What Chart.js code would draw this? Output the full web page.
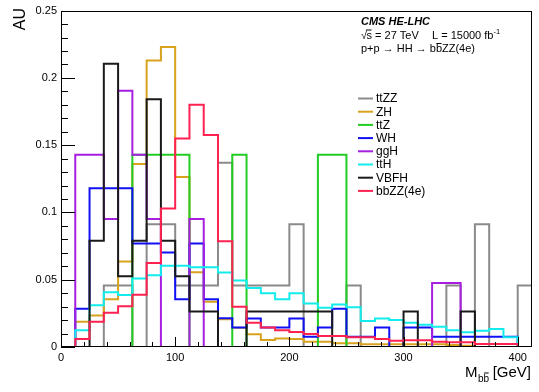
<!DOCTYPE html>
<html>
<head>
<meta charset="utf-8">
<script src="https://cdn.jsdelivr.net/npm/chart.js@4.4.1/dist/chart.umd.min.js"></script>
<style>
  html, body { margin: 0; padding: 0; background: #ffffff; }
  canvas { display: block; }
</style>
</head>
<body>
<canvas id="c" width="539" height="392"></canvas>
<script>
// Histogram binning: 33 bins of 12.5 GeV starting at 0
const binLow = 0;
const binWidth = 12.5;

// Normalised M_bb distributions (one value per bin)
const ttZZ = [0, 0, 0, 0.0457, 0.0457, 0, 0.0913, 0.0913, 0.0457, 0.0457, 0.0457, 0.137, 0.0457, 0.0457, 0.0457, 0.0457, 0.0913, 0, 0, 0, 0.0457, 0, 0, 0, 0, 0, 0, 0.0457, 0, 0.0913, 0, 0, 0.0457];
const ZH = [0, 0.0187, 0.0234, 0.0354, 0.0635, 0.136, 0.213, 0.223, 0.1264, 0.0555, 0.0337, 0.0207, 0.0143, 0.0094, 0.0052, 0.0064, 0.0059, 0.0039, 0.0039, 0.0027, 0.0027, 0.002, 0.002, 0.002, 0.002, 0.002, 0.002, 0.0015, 0.001, 0, 0, 0, 0];
const ttZ = [0, 0, 0, 0, 0, 0.1429, 0.1429, 0.1429, 0.1429, 0, 0, 0, 0.1429, 0, 0, 0, 0, 0, 0.1429, 0.1429, 0, 0, 0, 0, 0, 0, 0, 0, 0, 0, 0, 0, 0];
const WH = [0, 0.0284, 0.118, 0.118, 0.118, 0.077, 0.077, 0.0702, 0.0354, 0.077, 0.0354, 0.0214, 0.0145, 0.0212, 0.0145, 0.0145, 0.0212, 0.0076, 0.0145, 0.0285, 0.0076, 0.0076, 0.0145, 0, 0.0145, 0.0145, 0.0076, 0.0076, 0.0076, 0.0076, 0.0076, 0.0076, 0];
const ggH = [0, 0.1429, 0.1429, 0.0952, 0.1905, 0.1429, 0.0952, 0, 0, 0.0952, 0, 0, 0, 0, 0, 0, 0, 0, 0, 0, 0, 0, 0, 0, 0, 0, 0.0476, 0.0476, 0, 0, 0, 0, 0];
const ttH = [0, 0.0125, 0.031, 0.0407, 0.0387, 0.0509, 0.0533, 0.0603, 0.0603, 0.0593, 0.0593, 0.0553, 0.0494, 0.0438, 0.04, 0.0354, 0.04, 0.0324, 0.0291, 0.0315, 0.0296, 0.0194, 0.0212, 0.02, 0.018, 0.0165, 0.015, 0.0125, 0.011, 0.012, 0.0133, 0.0073, 0];
const VBFH = [0, 0, 0.0789, 0.2105, 0.0526, 0.0789, 0.1842, 0.0789, 0.0526, 0.0263, 0.0263, 0, 0, 0.0263, 0.0263, 0.0263, 0.0263, 0.0263, 0.0263, 0, 0, 0, 0, 0, 0.0263, 0, 0, 0, 0.0263, 0, 0, 0, 0];
const bbZZ4e = [0, 0.006, 0.0187, 0.0255, 0.0303, 0.0388, 0.0625, 0.103, 0.155, 0.18, 0.1575, 0.0785, 0.0299, 0.018, 0.0145, 0.0125, 0.0112, 0.0096, 0.0081, 0.0081, 0.0072, 0.0072, 0.0059, 0.0047, 0.005, 0.005, 0.0039, 0.0035, 0.0035, 0.0022, 0.0022, 0.0022, 0];

const seriesNames = ['ttZZ', 'ZH', 'ttZ', 'WH', 'ggH', 'ttH', 'VBFH', 'bbZZ(4e)'];
const seriesValues = [ttZZ, ZH, ttZ, WH, ggH, ttH, VBFH, bbZZ4e];
const seriesColors = ['#8a8a8a', '#d8a21e', '#22cc22', '#1010f5', '#a61ee0', '#12ecec', '#1a1a1a', '#ff2250'];

// Axis ticks
const xTicks = [0, 100, 200, 300, 400];
const yTicks = [0, 0.05, 0.1, 0.15, 0.2, 0.25];
const yTickLabels = ['0', '0.05', '0.1', '0.15', '0.2', '0.25'];
const xMinorStep = 20;
const yMinorStep = 0.01;

const FONT = '"Liberation Sans", Arial, Helvetica, sans-serif';

// Outline of a histogram: one point per bin at its upper edge.
// With stepped 'after' the line rises/falls at the previous x, then runs flat to the bin's upper edge.
function histPoints(vals) {
  const pts = [{ x: binLow, y: 0 }];
  vals.forEach((v, i) => pts.push({ x: binLow + (i + 1) * binWidth, y: v }));
  pts.push({ x: binLow + vals.length * binWidth, y: 0 });
  return pts;
}

const datasets = seriesNames.map((name, i) => ({
  label: name,
  data: histPoints(seriesValues[i]),
  borderColor: seriesColors[i],
  backgroundColor: seriesColors[i],
  borderWidth: 2,
  stepped: 'after',
  pointRadius: 0,
  fill: false,
  borderJoinStyle: 'miter',
  borderCapStyle: 'butt',
  order: seriesNames.length - i
}));

// Draw a run of text pieces left-to-right; returns the end x
function drawRuns(ctx, x, y, runs) {
  let cx = x;
  runs.forEach(r => {
    ctx.font = r.font;
    const w = ctx.measureText(r.t).width;
    ctx.fillText(r.t, cx, y + (r.dy || 0));
    if (r.over) {
      const oy = y + (r.dy || 0) - r.over;
      ctx.beginPath();
      ctx.moveTo(cx + (r.ox0 || 0.5), oy);
      ctx.lineTo(cx + w - (r.ox1 || 0.5), oy);
      ctx.lineWidth = 1;
      ctx.stroke();
    }
    cx += w + (r.after || 0);
  });
  return cx;
}
function runsWidth(ctx, runs) {
  let w = 0;
  runs.forEach(r => { ctx.font = r.font; w += ctx.measureText(r.t).width + (r.after || 0); });
  return w;
}

const decorations = {
  id: 'decorations',
  afterDraw(chart) {
    const ctx = chart.ctx;
    const a = chart.chartArea;
    const xs = chart.scales.x, ys = chart.scales.y;
    ctx.save();
    ctx.strokeStyle = '#000';
    ctx.fillStyle = '#000';
    ctx.lineWidth = 1;

    // frame
    ctx.strokeRect(Math.round(a.left) + 0.5, Math.round(a.top) + 0.5,
                   Math.round(a.right - a.left) - 1, Math.round(a.bottom - a.top) - 1);

    // inward ticks
    ctx.beginPath();
    for (let v = 0; v <= ys.max + 1e-9; v += yMinorStep) {
      const p = Math.round(ys.getPixelForValue(v)) + 0.5;
      const major = Math.abs(v / 0.05 - Math.round(v / 0.05)) < 1e-6;
      ctx.moveTo(a.left, p);
      ctx.lineTo(a.left + (major ? 14 : 7), p);
    }
    for (let v = 0; v <= xs.max + 1e-9; v += xMinorStep) {
      const p = Math.round(xs.getPixelForValue(v)) + 0.5;
      const major = v % 100 === 0;
      ctx.moveTo(p, a.bottom);
      ctx.lineTo(p, a.bottom - (major ? 10 : 5));
    }
    ctx.stroke();

    // y axis title
    ctx.save();
    ctx.translate(21, 8);
    ctx.rotate(-Math.PI / 2);
    ctx.font = '16px ' + FONT;
    ctx.textAlign = 'right';
    ctx.textBaseline = 'middle';
    ctx.fillText('AU', 0, 0);
    ctx.restore();

    ctx.textAlign = 'left';
    ctx.textBaseline = 'alphabetic';

    // x axis title: M_{b b-bar} [GeV]
    const big = '15px ' + FONT, sub = '10px ' + FONT;
    const xRuns = [
      { t: 'M', font: big, after: 0.5 },
      { t: 'b', font: sub, dy: 5 },
      { t: 'b', font: sub, dy: 5, over: 9, after: 3.5 },
      { t: '[GeV]', font: big }
    ];
    drawRuns(ctx, 531 - runsWidth(ctx, xRuns), 377, xRuns);

    // header text
    const f = '11px ' + FONT;
    ctx.font = 'italic bold 11px ' + FONT;
    ctx.fillText('CMS HE-LHC', 361, 25);

    drawRuns(ctx, 361, 38.5, [
      { t: '\u221A', font: f, after: -0.5 },
      { t: 's', font: f, over: 8.5, ox0: -0.5, ox1: 0 },
      { t: ' = 27 TeV', font: f }
    ]);
    drawRuns(ctx, 432, 38.5, [
      { t: 'L = 15000 fb', font: f },
      { t: '-1', font: '7.5px ' + FONT, dy: -5 }
    ]);

    drawRuns(ctx, 361, 52, [
      { t: 'p+p \u2192 HH \u2192 b', font: f },
      { t: 'b', font: f, over: 8.5 },
      { t: 'ZZ(4e)', font: f }
    ]);

    // legend
    ctx.font = '12px ' + FONT;
    ctx.textBaseline = 'middle';
    chart.data.datasets.forEach((ds, i) => {
      const y = 98.5 + i * 13.2;
      ctx.beginPath();
      ctx.strokeStyle = ds.borderColor;
      ctx.lineWidth = 2;
      ctx.moveTo(358, y);
      ctx.lineTo(373, y);
      ctx.stroke();
      ctx.fillStyle = '#000';
      ctx.fillText(ds.label, 376, y + 0.5);
    });
    ctx.restore();
  }
};

new Chart(document.getElementById('c'), {
  type: 'line',
  data: { datasets },
  options: {
    responsive: false,
    animation: false,
    events: [],
    layout: { padding: { top: 8, right: 7, left: 0, bottom: 0 } },
    plugins: { legend: { display: false }, tooltip: { enabled: false } },
    scales: {
      x: {
        type: 'linear',
        min: 0,
        max: 412.5,
        grid: { display: false, drawTicks: false },
        border: { display: false },
        afterBuildTicks: s => { s.ticks = xTicks.map(v => ({ value: v })); },
        afterFit: s => { s.height = 45; },
        ticks: {
          color: '#000',
          font: { family: FONT, size: 11 },
          padding: 4,
          maxRotation: 0,
          autoSkip: false,
          callback: v => String(v)
        }
      },
      y: {
        type: 'linear',
        min: 0,
        max: 0.25,
        grid: { display: false, drawTicks: false },
        border: { display: false },
        afterBuildTicks: s => { s.ticks = yTicks.map(v => ({ value: v })); },
        afterFit: s => { s.width = 61; },
        ticks: {
          color: '#000',
          font: { family: FONT, size: 11 },
          padding: 4,
          autoSkip: false,
          callback: (v, i) => yTickLabels[i]
        }
      }
    }
  },
  plugins: [decorations]
});
</script>
</body>
</html>
